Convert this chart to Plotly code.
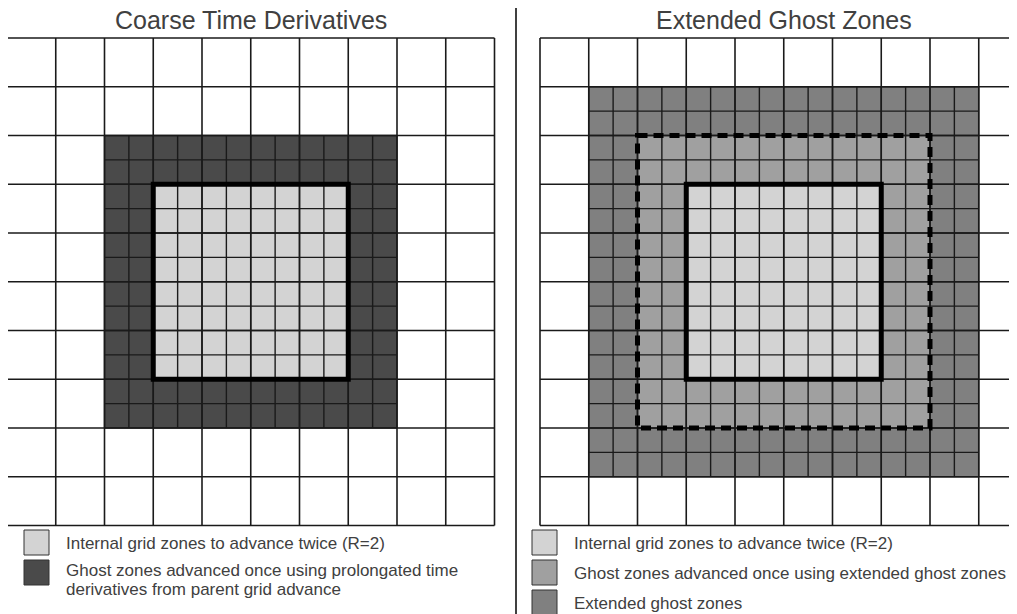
import plotly.graph_objects as go

# ---------------- data ----------------
titles = ["Coarse Time Derivatives", "Extended Ghost Zones"]
n_coarse = 10          # coarse cells per side
refine = 2             # refinement ratio R
# regions in coarse-cell index units [start, end]
internal_region = [3, 7]
ghost_region = [2, 8]
extended_region = [1, 9]

colors = {
    "internal": "#d3d3d3",
    "ghost_prolong": "#4a4a4a",
    "ghost_ext": "#a0a0a0",
    "extended": "#808080",
}
left_legend = [
    ("internal", ["Internal grid zones to advance twice (R=2)"]),
    ("ghost_prolong", ["Ghost zones advanced once using prolongated time",
                       "derivatives from parent grid advance"]),
]
right_legend = [
    ("internal", ["Internal grid zones to advance twice (R=2)"]),
    ("ghost_ext", ["Ghost zones advanced once using extended ghost zones"]),
    ("extended", ["Extended ghost zones"]),
]

# ---------------- layout geometry (page pixels) ----------------
PW, PH = 1017, 614      # browser window
off = 8                 # default page body margin
W, H = PW - off, PH - off
cell = 48.75
grid_top = 38
left_x0 = 7
right_x0 = 540
divider = 516
text_color = "#404040"
font_family = "Liberation Sans, Arial, sans-serif"


def fx(p):
    return (p - off) / W


def fy(p):
    return 1 - (p - off) / H


fig = go.Figure()


def grid_lines(lo, hi, step, xa, ya, width, color):
    xs, ys = [], []
    n = int(round((hi - lo) / step))
    for i in range(n + 1):
        v = lo + i * step
        xs += [v, v, None]
        ys += [lo, hi, None]
        xs += [lo, hi, None]
        ys += [v, v, None]
    fig.add_trace(go.Scatter(x=xs, y=ys, mode="lines", xaxis=xa, yaxis=ya,
                             line=dict(color=color, width=width),
                             hoverinfo="skip", showlegend=False))


def rect(xref, yref, r, fill, layer="below", line=None):
    fig.add_shape(type="rect", xref=xref, yref=yref,
                  x0=r[0], x1=r[1], y0=r[0], y1=r[1],
                  fillcolor=fill, layer=layer,
                  line=line if line else dict(width=0))


# ----- left panel -----
rect("x", "y", ghost_region, colors["ghost_prolong"])
rect("x", "y", internal_region, colors["internal"])
grid_lines(0, n_coarse, 1, "x", "y", 1.6, "#1a1a1a")
grid_lines(ghost_region[0], ghost_region[1], 1 / refine, "x", "y", 1.4, "#1a1a1a")
rect("x", "y", internal_region, "rgba(0,0,0,0)", layer="above",
     line=dict(color="black", width=5))

# ----- right panel -----
rect("x2", "y2", extended_region, colors["extended"])
rect("x2", "y2", ghost_region, colors["ghost_ext"])
rect("x2", "y2", internal_region, colors["internal"])
grid_lines(0, n_coarse, 1, "x2", "y2", 1.6, "#1a1a1a")
grid_lines(extended_region[0], extended_region[1], 1 / refine, "x2", "y2", 1.4, "#1a1a1a")
rect("x2", "y2", ghost_region, "rgba(0,0,0,0)", layer="above",
     line=dict(color="black", width=5, dash="10px,6px"))
rect("x2", "y2", internal_region, "rgba(0,0,0,0)", layer="above",
     line=dict(color="black", width=5))

# divider
fig.add_shape(type="line", xref="paper", yref="paper",
              x0=fx(divider), x1=fx(divider), y0=0, y1=1,
              line=dict(color="black", width=1.5))

# titles
for xa, t in [("x", titles[0]), ("x2", titles[1])]:
    fig.add_annotation(x=n_coarse / 2, y=fy(20), xref=xa, yref="paper",
                       yanchor="middle", text=t, showarrow=False,
                       font=dict(size=25, color=text_color, family=font_family))


def legend(entries, patch_x, text_x, patch_y, text_y, line_gap=19.5):
    for (key, lines), pc, tc in zip(entries, patch_y, text_y):
        fig.add_shape(type="rect", xref="paper", yref="paper",
                      x0=fx(patch_x), x1=fx(patch_x + 25),
                      y0=fy(pc - 12.5), y1=fy(pc + 12.5),
                      fillcolor=colors[key], line=dict(color="#333333", width=1))
        for j, label in enumerate(lines):
            fig.add_annotation(x=fx(text_x), y=fy(tc + j * line_gap), xref="paper", yref="paper",
                               text=label, showarrow=False, xanchor="left", yanchor="middle",
                               align="left",
                               font=dict(size=17, color=text_color, family=font_family))


legend(left_legend, 24, 64, [542.5, 572.5], [543, 570])
legend(right_legend, 532, 572, [542.5, 572.5, 602.5], [543, 573, 603])

ax = dict(visible=False, showgrid=False, zeroline=False, fixedrange=True)
fig.update_layout(
    width=W, height=H,
    margin=dict(l=0, r=0, t=0, b=0),
    paper_bgcolor="white", plot_bgcolor="white",
    showlegend=False,
    xaxis=dict(ax, domain=[0, fx(divider)],
               range=[(off - left_x0) / cell, (divider - left_x0) / cell]),
    yaxis=dict(ax, domain=[0, 1],
               range=[(PH - grid_top) / cell, (off - grid_top) / cell]),
    xaxis2=dict(ax, domain=[fx(divider), 1], anchor="y2",
                range=[(divider - right_x0) / cell, (PW - right_x0) / cell]),
    yaxis2=dict(ax, domain=[0, 1], anchor="x2",
                range=[(PH - grid_top) / cell, (off - grid_top) / cell]),
)

fig.write_html("out.html")
